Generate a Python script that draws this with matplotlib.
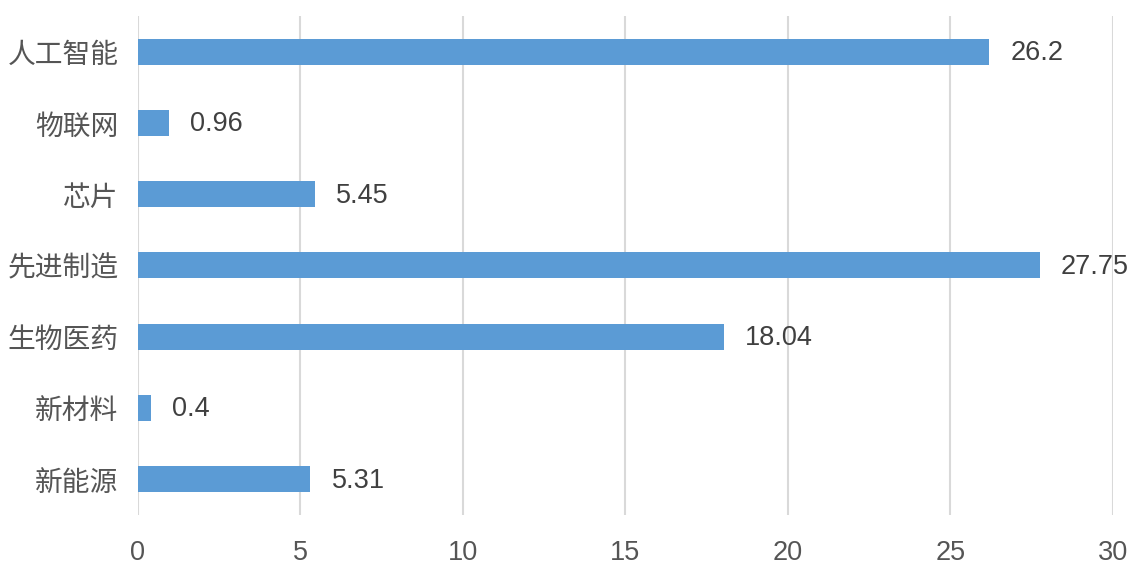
import matplotlib.pyplot as plt

plt.rcParams['font.family'] = ['Noto Sans CJK SC', 'DejaVu Sans']

categories = ['新能源', '新材料', '生物医药', '先进制造', '芯片', '物联网', '人工智能']
values = [5.31, 0.4, 18.04, 27.75, 5.45, 0.96, 26.2]
xticks = [0, 5, 10, 15, 20, 25, 30]

BAR = '#5b9bd5'
TEXT = '#555555'
GRID = '#d9d9d9'
NUMFONT = ['Liberation Sans', 'DejaVu Sans']

fig = plt.figure(figsize=(11.4, 5.72), dpi=100)
ax = fig.add_axes([0.121, 0.10, 0.855, 0.872])

ypos = range(len(categories))
ax.barh(ypos, values, height=0.365, color=BAR, zorder=3)

for y, v in zip(ypos, values):
    ax.text(v + 0.65, y - 0.02, f'{v:g}', va='center', ha='left',
            fontsize=19.5, color='#404040', family=NUMFONT)

ax.set_xlim(0, 30)
ax.set_ylim(-0.5, len(categories) - 0.5)
ax.set_xticks(xticks)
ax.set_xticklabels([str(t) for t in xticks], family=NUMFONT, fontsize=19.5)
ax.set_yticks(list(ypos))
ax.set_yticklabels(categories, fontsize=20)
ax.tick_params(axis='both', length=0, colors=TEXT)
ax.tick_params(axis='x', pad=18)
ax.tick_params(axis='y', pad=14)

ax.grid(axis='x', color=GRID, linewidth=1.5, zorder=0)
for s in ax.spines.values():
    s.set_visible(False)

fig.savefig('out.png', dpi=100)
